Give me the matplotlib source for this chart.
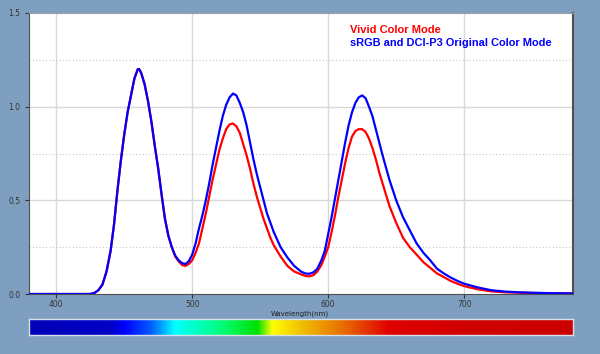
import numpy as np
import matplotlib
matplotlib.use("Agg")
import matplotlib.pyplot as plt
from matplotlib.colors import LinearSegmentedColormap

wavelength = [380, 420, 425, 428, 431, 434, 437, 440, 442.5, 445,
              447.5, 450, 452.5, 455, 457.5, 460, 461, 462.5, 465, 467.5,
              470, 472.5, 475, 477.5, 480, 482.5, 485, 487.5, 490, 492.5,
              495, 497.5, 500, 502.5, 505, 507.5, 510, 512.5, 515, 517.5,
              520, 522.5, 525, 527.5, 530, 532.5, 535, 537.5, 540, 542.5,
              545, 547.5, 550, 552.5, 555, 557.5, 560, 565, 570, 575,
              580, 583, 586, 589, 592, 595, 597.5, 600, 602.5, 605,
              607.5, 610, 612.5, 615, 617.5, 620, 622.5, 625, 627.5, 630,
              632.5, 635, 637.5, 640, 645, 650, 655, 660, 665, 670,
              675, 680, 685, 690, 695, 700, 710, 720, 730, 740,
              750, 760, 770, 780]

# sRGB and DCI-P3 original colour mode (blue)
srgb = [0, 0, 0, 0.005, 0.02, 0.05, 0.12, 0.23, 0.37, 0.55,
        0.71, 0.85, 0.97, 1.06, 1.15, 1.20, 1.20, 1.18, 1.12, 1.03,
        0.92, 0.79, 0.67, 0.53, 0.40, 0.31, 0.25, 0.205, 0.18, 0.165,
        0.16, 0.175, 0.21, 0.27, 0.35, 0.42, 0.50, 0.59, 0.69, 0.78,
        0.87, 0.95, 1.01, 1.05, 1.07, 1.06, 1.02, 0.97, 0.90, 0.81,
        0.72, 0.64, 0.57, 0.50, 0.43, 0.38, 0.33, 0.25, 0.195, 0.15,
        0.12, 0.11, 0.108, 0.115, 0.135, 0.18, 0.23, 0.32, 0.41, 0.51,
        0.61, 0.71, 0.81, 0.90, 0.97, 1.02, 1.05, 1.06, 1.045, 1.00,
        0.95, 0.88, 0.81, 0.74, 0.61, 0.50, 0.41, 0.34, 0.27, 0.22,
        0.18, 0.135, 0.11, 0.088, 0.07, 0.055, 0.035, 0.020, 0.013, 0.009,
        0.007, 0.005, 0.004, 0.003]

# vivid colour mode (red)
vivid = [0, 0, 0, 0.005, 0.02, 0.05, 0.12, 0.23, 0.37, 0.55,
         0.71, 0.85, 0.97, 1.06, 1.15, 1.20, 1.20, 1.18, 1.12, 1.03,
         0.92, 0.79, 0.67, 0.53, 0.40, 0.31, 0.25, 0.20, 0.175, 0.155,
         0.15, 0.16, 0.18, 0.22, 0.27, 0.35, 0.43, 0.52, 0.61, 0.69,
         0.77, 0.83, 0.88, 0.905, 0.91, 0.895, 0.86, 0.80, 0.74, 0.67,
         0.59, 0.52, 0.46, 0.40, 0.35, 0.30, 0.26, 0.20, 0.15, 0.12,
         0.105, 0.097, 0.094, 0.10, 0.12, 0.155, 0.20, 0.25, 0.33, 0.42,
         0.52, 0.61, 0.70, 0.78, 0.84, 0.87, 0.88, 0.88, 0.865, 0.83,
         0.78, 0.72, 0.65, 0.59, 0.47, 0.38, 0.30, 0.25, 0.21, 0.17,
         0.14, 0.11, 0.09, 0.07, 0.055, 0.042, 0.025, 0.014, 0.009, 0.007,
         0.005, 0.004, 0.003, 0.002]

# spectrum bar stops
bar_wl = [380, 440, 450, 470, 487, 520, 548, 559, 580, 610, 645, 700, 780]
bar_colors = ['#0000b8', '#0000c8', '#0000ff', '#0060ff', '#00ffff', '#00ff80',
              '#00e000', '#ffff00', '#f0c000', '#e87000', '#e00000', '#d00000', '#cc0000']

bg = '#7f9fc0'
fig = plt.figure(figsize=(6, 3.54), dpi=100, facecolor=bg)
ax = fig.add_axes([29/600, 60/354, 544/600, 281/354])
ax.set_facecolor('white')

ax.plot(wavelength, vivid, color='#ff0000', lw=1.6, zorder=3)
ax.plot(wavelength, srgb, color='#0000ff', lw=1.6, zorder=4)

ax.set_xlim(380, 780)
ax.set_ylim(0, 1.5)
ax.set_xticks([400, 500, 600, 700])
ax.set_yticks([0.0, 0.5, 1.0, 1.5])
ax.set_yticklabels(['0.0', '0.5', '1.0', '1.5'])
for x in [400, 500, 600, 700]:
    ax.axvline(x, color='#d8d8d8', lw=1, zorder=1)
for y in [0.5, 1.0]:
    ax.axhline(y, color='#d8d8d8', lw=1, zorder=1)
for y in [0.25, 0.75, 1.25]:
    ax.axhline(y, color='#c8c8c8', lw=0.8, ls=(0, (1, 2)), zorder=1)

ax.tick_params(labelsize=5.5, colors='#333333', length=3, width=0.8, pad=3)
ax.tick_params(axis='x', pad=1.5)
ax.spines['left'].set_color('#505050')
ax.spines['bottom'].set_color('#505050')
ax.spines['right'].set_color('#505050')
ax.spines['right'].set_linewidth(1.5)
ax.spines['top'].set_color('#a0a0a0')

fig.text(350/600, 1 - 30/354, 'Vivid Color Mode', color='#ff0000',
         fontsize=8.0, fontweight='bold', family='Liberation Sans', va='center')
fig.text(350/600, 1 - 43/354, 'sRGB and DCI-P3 Original Color Mode', color='#0000ff',
         fontsize=7.9, fontweight='bold', family='Liberation Sans', va='center')
fig.text(300/600, 1 - 313.5/354, 'Wavelength(nm)', color='#222222',
         fontsize=5, ha='center', va='center')

# spectrum colour bar
cax = fig.add_axes([29/600, 19/354, 544/600, 16/354])
pos = [(w - 380) / 400 for w in bar_wl]
cmap = LinearSegmentedColormap.from_list('spec', list(zip(pos, bar_colors)))
grad = np.linspace(0, 1, 512).reshape(1, -1)
cax.imshow(grad, aspect='auto', cmap=cmap, extent=[380, 780, 0, 1])
cax.set_xticks([])
cax.set_yticks([])
for s in cax.spines.values():
    s.set_color('#d8e0ea')
    s.set_linewidth(1)

fig.savefig('out.png', dpi=100, facecolor=bg)
